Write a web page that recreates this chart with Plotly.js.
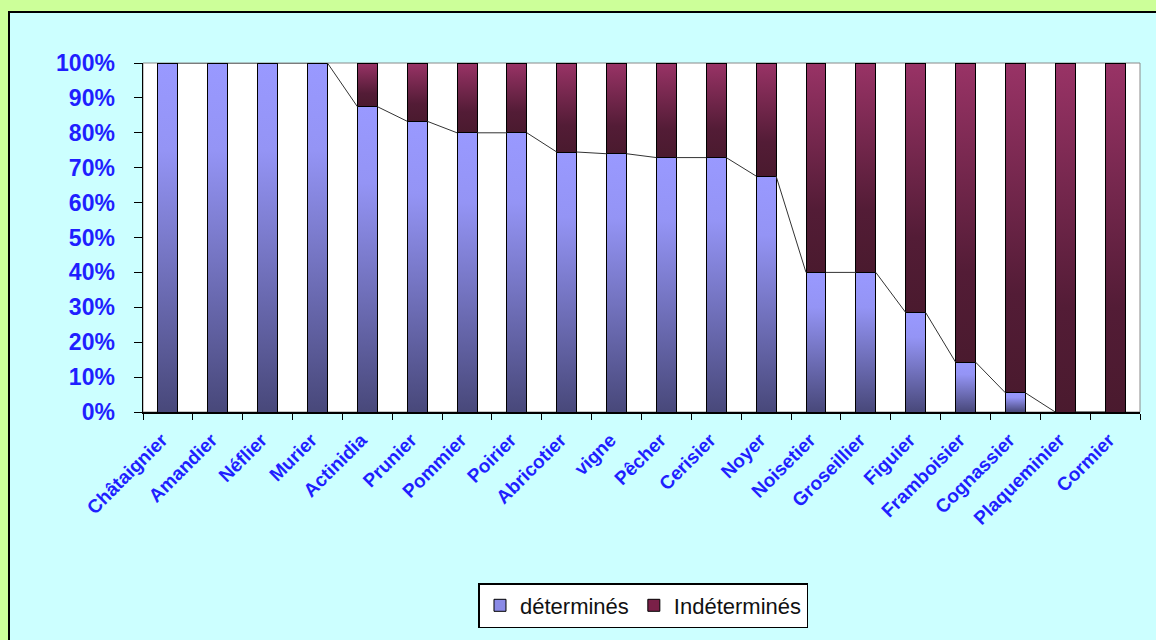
<!DOCTYPE html>
<html>
<head>
<meta charset="utf-8">
<script src="https://cdn.plot.ly/plotly-3.0.1.min.js"></script>
<style>
  html, body { margin: 0; padding: 0; width: 1156px; height: 640px; overflow: hidden; background: #ccff99; }
  #frame { position: absolute; left: 8px; top: 11px; border-left: 2px solid #000; border-top: 2px solid #000; background: #ccffff; width: 1146px; height: 627px; }
  #chart { width: 1146px; height: 627px; }
</style>
</head>
<body>
<div id="frame"><div id="chart"></div></div>
<script>
// Data (percent of each species)
const categories = ["Châtaignier", "Amandier", "Néflier", "Murier", "Actinidia", "Prunier", "Pommier",
  "Poirier", "Abricotier", "vigne", "Pêcher", "Cerisier", "Noyer", "Noisetier", "Groseillier",
  "Figuier", "Framboisier", "Cognassier", "Plaqueminier", "Cormier"];
const determines = [100, 100, 100, 100, 87.5, 83.3, 80, 80, 74.5, 74, 72.9, 72.9, 67.6, 40, 40, 28.5, 14.3, 5.5, 0, 0];
const indetermines = [0, 0, 0, 0, 12.5, 16.7, 20, 20, 25.5, 26, 27.1, 27.1, 32.4, 60, 60, 71.5, 85.7, 94.5, 100, 100];
const seriesNames = ["déterminés", "Indéterminés"];
const yTickValues = [0, 10, 20, 30, 40, 50, 60, 70, 80, 90, 100];
const yTickLabels = ["0%", "10%", "20%", "30%", "40%", "50%", "60%", "70%", "80%", "90%", "100%"];

const BAR_WIDTH = 0.4;
const blue = "#1f1fff";

// Series lines (Excel style) joining tops of the "déterminés" segments between bars
const lineX = [], lineY = [];
for (let i = 0; i < categories.length - 1; i++) {
  lineX.push(i + BAR_WIDTH / 2, i + 1 - BAR_WIDTH / 2, null);
  lineY.push(determines[i], determines[i + 1], null);
}

const traces = [
  { type: "bar", name: seriesNames[0], x: categories, y: determines, width: BAR_WIDTH,
    marker: { color: "#8a8ae6", line: { color: "#000", width: 1 } } },
  { type: "bar", name: seriesNames[1], x: categories, y: indetermines, width: BAR_WIDTH,
    marker: { color: "#7a2048", line: { color: "#000", width: 1 } } },
  { type: "scatter", mode: "lines", x: lineX, y: lineY, xaxis: "x2", yaxis: "y",
    line: { color: "#333", width: 1 }, showlegend: false, connectgaps: false, hoverinfo: "skip" }
];

const layout = {
  width: 1146, height: 627,
  margin: { l: 133, r: 16, t: 50, b: 228 },
  paper_bgcolor: "#ccffff",
  plot_bgcolor: "#ffffff",
  barmode: "stack",
  showlegend: true,
  font: { family: "Liberation Sans, Arial, sans-serif" },
  xaxis: {
    type: "category", range: [-0.5, categories.length - 0.5],
    tickson: "boundaries", ticks: "outside", ticklen: 6, tickwidth: 1, tickcolor: "#000",
    tickangle: -45, showgrid: false, zeroline: false,
    showline: true, linecolor: "#000", linewidth: 1.5,
    ticklabelstandoff: 8, ticklabelshift: -6,
    tickfont: { size: 19, color: blue, weight: "bold", family: "Liberation Sans, Arial, sans-serif" }
  },
  xaxis2: { overlaying: "x", range: [-0.5, categories.length - 0.5], visible: false, fixedrange: true },
  yaxis: {
    range: [0, 100], tickvals: yTickValues, ticktext: yTickLabels,
    ticks: "outside", ticklen: 8, tickwidth: 1, tickcolor: "#000",
    showgrid: false, zeroline: false, showline: true, linecolor: "#000", linewidth: 1.5,
    ticklabelstandoff: 14,
    tickfont: { size: 23, color: blue, weight: "bold", family: "Liberation Sans, Arial, sans-serif" }
  },
  shapes: [
    { type: "rect", xref: "paper", yref: "paper", x0: 0, x1: 1, y0: 0, y1: 1,
      line: { color: "#8a8a8a", width: 1 }, fillcolor: "rgba(0,0,0,0)", layer: "below" }
  ],
  legend: {
    orientation: "h", x: 0.502, xanchor: "center", y: -0.49, yanchor: "top",
    bgcolor: "#ffffff", bordercolor: "#000", borderwidth: 1.5,
    font: { size: 22, color: "#111", family: "Liberation Sans, Arial, sans-serif" },
    traceorder: "normal"
  }
};

Plotly.newPlot("chart", traces, layout, { staticPlot: true, displayModeBar: false }).then(function (gd) {
  // Excel-like vertical gradient on bar segments
  const svg = gd.querySelector("svg.main-svg");
  const ns = "http://www.w3.org/2000/svg";
  let defs = svg.querySelector("defs");
  if (!defs) { defs = document.createElementNS(ns, "defs"); svg.insertBefore(defs, svg.firstChild); }
  function grad(id, stops) {
    const g = document.createElementNS(ns, "linearGradient");
    g.setAttribute("id", id); g.setAttribute("x1", "0"); g.setAttribute("y1", "0");
    g.setAttribute("x2", "0"); g.setAttribute("y2", "1");
    stops.forEach(function (s) {
      const st = document.createElementNS(ns, "stop");
      st.setAttribute("offset", s[0]); st.setAttribute("stop-color", s[1]);
      g.appendChild(st);
    });
    defs.appendChild(g);
  }
  grad("gBlue", [["0", "#9999ff"], ["0.25", "#9494f5"], ["1", "#48487a"]]);
  grad("gRed", [["0", "#993366"], ["0.7", "#531c36"], ["1", "#4a1a2e"]]);
  const barTraces = gd.querySelectorAll(".barlayer .trace");
  barTraces.forEach(function (t, idx) {
    t.querySelectorAll("path").forEach(function (p) {
      p.style.fill = idx === 0 ? "url(#gBlue)" : "url(#gRed)";
    });
  });
});
</script>
</body>
</html>
